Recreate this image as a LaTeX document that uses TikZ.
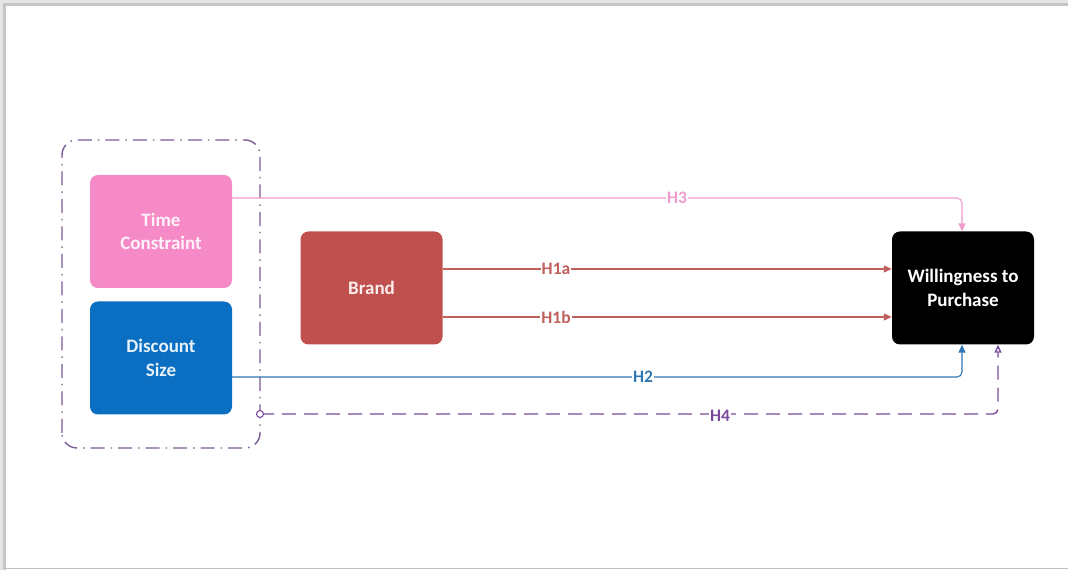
\documentclass[tikz,border=0pt]{standalone}
\usepackage{fontspec}
\setmainfont{Carlito}
\usetikzlibrary{arrows.meta}
\definecolor{tcpink}{HTML}{F68AC6}
\definecolor{dsblue}{HTML}{0A6FC2}
\definecolor{brred}{HTML}{C0504D}
\definecolor{hpink}{HTML}{EE9CCB}
\definecolor{hred}{HTML}{C0605D}
\definecolor{hblue}{HTML}{2F78B4}
\definecolor{hpurp}{HTML}{7A4A9C}
\definecolor{grpc}{HTML}{7A5C96}
\tikzset{
  box/.style={rounded corners=8pt, minimum width=142pt, minimum height=113pt, inner sep=0pt, align=center, font=\fontsize{19}{23.5}\selectfont\bfseries},
  hlab/.style={fill=white, inner sep=1pt, font=\fontsize{17.5}{20}\selectfont\bfseries},
  conn/.style={line width=1.1pt, rounded corners=5pt},
}
\begin{document}
\begin{tikzpicture}[x=1pt,y=1pt]
\useasboundingbox (0,0) rectangle (1068,570);
\fill[white] (0,0) rectangle (1068,570);
% shadow frame
\draw[gray!20, line width=6pt] (2,-5) -- (2,568) -- (1075,568);
\draw[gray!45, line width=3pt] (4.5,-5) -- (4.5,565.5) -- (1075,565.5);
\draw[gray!50, line width=1.5pt] (5,1.5) -- (1075,1.5);
% group box
\draw[grpc, line width=1.4pt, rounded corners=15pt, dash pattern=on 14pt off 6pt on 1.5pt off 6pt] (62,122) rectangle (260,430);
% nodes
\node[box, fill=tcpink, text=white!90!tcpink] (tc) at (161,338.5) {Time\\Constraint};
\node[box, fill=dsblue, text=white!90!dsblue] (ds) at (161,212) {Discount\\Size};
\node[box, fill=brred, text=white!90!brred] (br) at (371.5,282) {Brand};
\node[box, fill=black, text=white] (wp) at (963,282) {Willingness to\\Purchase};
\coordinate (h4s) at (260,156);
% connectors
\draw[conn, hpink, -{Triangle[length=8pt,width=7pt]}] (tc.east |- 0,372) -- (962,372) -- (wp.north -| 962,0);
\node[hlab, text=hpink] at (677,372) {H3};
\draw[conn, hred, -{Triangle[length=8pt,width=7pt]}] (br.east |- 0,301) -- (wp.west |- 0,301);
\node[hlab, text=hred] at (556,301) {H1a};
\draw[conn, hred, -{Triangle[length=8pt,width=7pt]}] (br.east |- 0,253) -- (wp.west |- 0,253);
\node[hlab, text=hred] at (556,253) {H1b};
\draw[conn, hblue, -{Triangle[length=8pt,width=7pt]}] (ds.east |- 0,193) -- (962,193) -- (wp.south -| 962,0);
\node[hlab, text=hblue] at (643,193) {H2};
\draw[conn, hpurp, line width=1.4pt, dash pattern=on 14pt off 8pt, -{Triangle[open,length=8pt,width=7pt]}] (h4s) -- (998,156) -- (wp.south -| 998,0);
\draw[hpurp, line width=1.1pt, fill=white] (h4s) circle (3.5pt);
\node[hlab, text=hpurp] at (720,154) {H4};
\end{tikzpicture}
\end{document}
